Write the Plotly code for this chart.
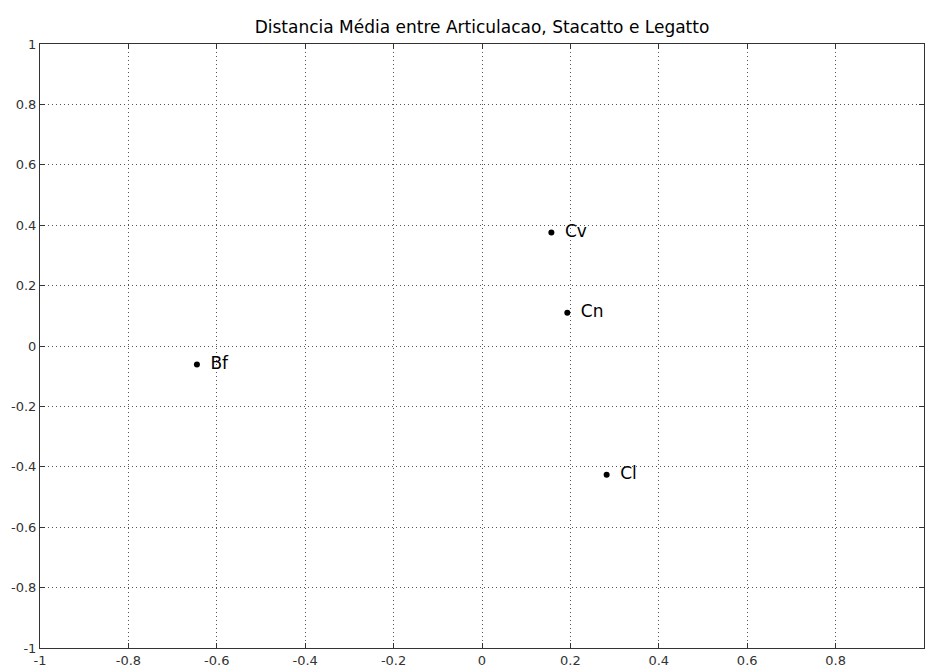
import plotly.graph_objects as go

# Mean distance coordinates per instrument
labels = ["Bf", "Cv", "Cn", "Cl"]
x_vals = [-0.645, 0.157, 0.193, 0.282]
y_vals = [-0.061, 0.376, 0.110, -0.426]

tick_vals = [-1, -0.8, -0.6, -0.4, -0.2, 0, 0.2, 0.4, 0.6, 0.8, 1]
tick_text = ["-1", "-0.8", "-0.6", "-0.4", "-0.2", "0", "0.2", "0.4", "0.6", "0.8", "1"]

FONT = "DejaVu Sans, Arial"

fig = go.Figure()
fig.add_trace(go.Scatter(
    x=x_vals, y=y_vals,
    mode="markers+text",
    text=[" \u2009" + s for s in labels],
    textposition="middle right",
    textfont=dict(family=FONT, size=17, color="black"),
    marker=dict(color="black", size=6),
    hoverinfo="skip",
    showlegend=False,
))

axis_common = dict(
    tickvals=tick_vals,
    ticktext=tick_text,
    showgrid=True,
    gridcolor="#555555",
    griddash="1px,3px",
    gridwidth=1,
    zeroline=False,
    showline=True,
    linecolor="#333333",
    linewidth=1,
    mirror="ticks",
    ticks="inside",
    ticklen=5,
    tickcolor="#333333",
    tickfont=dict(family=FONT, size=13, color="#333333"),
)

fig.update_xaxes(range=[-1, 1], **axis_common)
fig.update_yaxes(range=[-1, 1], **axis_common)

fig.update_layout(
    width=925, height=668,
    margin=dict(l=40, r=0, t=44, b=18),
    paper_bgcolor="white",
    plot_bgcolor="white",
    title=dict(
        text="Distancia Média entre Articulacao, Stacatto e Legatto",
        x=0.5, xanchor="center",
        y=1 - 27 / 668, yanchor="middle",
        xref="paper",
        font=dict(family=FONT, size=17, color="black"),
    ),
)

fig.write_html("out.html")
